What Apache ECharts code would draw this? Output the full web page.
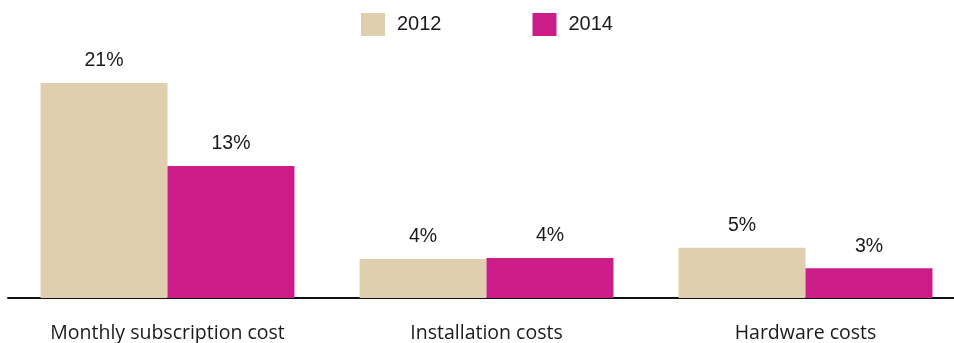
<!DOCTYPE html>
<html>
<head>
<meta charset="utf-8">
<script src="https://cdn.jsdelivr.net/npm/echarts@6/dist/echarts.min.js"></script>
<style>
html,body{margin:0;padding:0;background:#fff;}
#chart{width:954px;height:343px;}
</style>
</head>
<body>
<div id="chart"></div>
<script>
const categories = ['Monthly subscription cost', 'Installation costs', 'Hardware costs'];
const seriesNames = ['2012', '2014'];
const values2012 = [21, 3.8, 4.9];
const values2014 = [12.9, 3.9, 2.9];

const colors = ['#E0CFAE', '#CC1C87'];
const chart = echarts.init(document.getElementById('chart'), null, {renderer: 'canvas'});
const labelStyle = {
  show: true,
  position: 'top',
  distance: 12,
  fontFamily: 'Liberation Sans, Arial, sans-serif',
  fontSize: 19.5,
  color: '#1a1a1a',
  formatter: p => Math.round(p.value) + '%'
};
chart.setOption({
  animation: false,
  color: colors,
  legend: {
    top: 8,
    left: 356,
    itemWidth: 24,
    itemHeight: 23,
    itemGap: 91,
    icon: 'rect',
    textStyle: {fontFamily: 'Liberation Sans, Arial, sans-serif', fontSize: 20, color: '#1a1a1a', padding: [0, 0, 0, 7]},
    data: seriesNames
  },
  grid: {left: 8, right: -11, top: 42, bottom: 45, containLabel: false, outerBoundsMode: 'none'},
  xAxis: {
    type: 'category',
    data: categories,
    axisLine: {show: true, lineStyle: {color: '#111', width: 2}},
    axisTick: {show: false},
    axisLabel: {margin: 25, fontFamily: 'Open Sans, sans-serif', fontSize: 19.5, color: '#1a1a1a'}
  },
  yAxis: {type: 'value', min: 0, max: 25, show: false, splitLine: {show: false}},
  series: [
    {name: seriesNames[0], type: 'bar', data: values2012, barGap: 0, barCategoryGap: '20.4%', label: labelStyle},
    {name: seriesNames[1], type: 'bar', data: values2014, barGap: 0, barCategoryGap: '20.4%', label: labelStyle}
  ]
});
</script>
</body>
</html>
